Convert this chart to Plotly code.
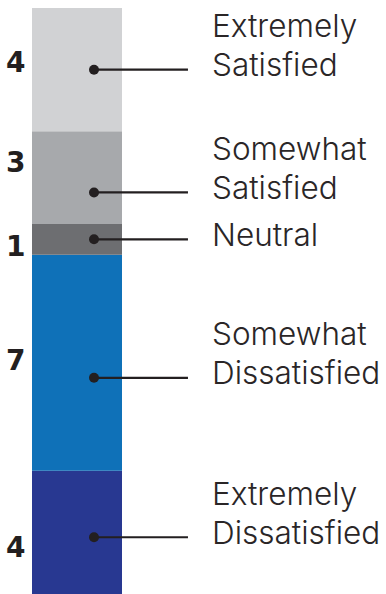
import plotly.graph_objects as go

# Data (bottom to top of the stacked bar)
categories = ["Extremely Dissatisfied", "Somewhat Dissatisfied", "Neutral",
              "Somewhat Satisfied", "Extremely Satisfied"]
values = [4, 7, 1, 3, 4]
label_lines = [["Extremely", "Dissatisfied"], ["Somewhat", "Dissatisfied"], ["Neutral"],
               ["Somewhat", "Satisfied"], ["Extremely", "Satisfied"]]
colors = ["#283891", "#0f71b8", "#6d6e71", "#a7a9ac", "#d1d2d4"]
# where within each segment the leader dot and the count label sit (fraction of segment)
dot_frac = [0.46, 0.43, 0.5, 0.34, 0.50]
num_frac = [0.38, 0.51, 0.28, 0.66, 0.56]

total = sum(values)
ppu = 586 / total
y_top = total + 8 / ppu

fig = go.Figure()
base = 0
bases = []
for c, v, col in zip(categories, values, colors):
    bases.append(base)
    fig.add_trace(go.Bar(x=[0], y=[v], base=[base], width=1, marker=dict(color=col, line=dict(width=0)),
                         name=c, showlegend=False, hoverinfo="skip"))
    base += v

dot_x, line_end, text_x, num_x = 0.189, 1.233, 1.48, -0.68
for i, (v, b) in enumerate(zip(values, bases)):
    yd = b + v * dot_frac[i]
    fig.add_trace(go.Scatter(x=[dot_x, line_end], y=[yd, yd], mode="lines",
                             line=dict(color="#231f20", width=2.2), showlegend=False, hoverinfo="skip"))
    fig.add_trace(go.Scatter(x=[dot_x], y=[yd], mode="markers",
                             marker=dict(color="#231f20", size=10), showlegend=False, hoverinfo="skip"))
    lines = label_lines[i]
    for j, t in enumerate(reversed(lines)):
        fig.add_annotation(x=text_x, y=yd, text=t, showarrow=False, xanchor="left", yanchor="middle",
                           yshift=5 + 39 * j, font=dict(family="Inter", size=31.5, color="#2a2627", weight=300))
    yn = b + v * num_frac[i]
    fig.add_annotation(x=num_x, y=yn, text=str(v), showarrow=False, xanchor="center", yanchor="middle",
                       font=dict(family="DejaVu Sans", size=28, color="#231f20", weight="bold"))

fig.update_layout(
    width=386, height=594, margin=dict(l=0, r=0, t=0, b=0),
    paper_bgcolor="white", plot_bgcolor="white", barmode="overlay",
    xaxis=dict(range=[-0.8556, 3.4333], visible=False, fixedrange=True),
    yaxis=dict(range=[0, y_top], visible=False, fixedrange=True),
)
fig.write_html("out.html")
